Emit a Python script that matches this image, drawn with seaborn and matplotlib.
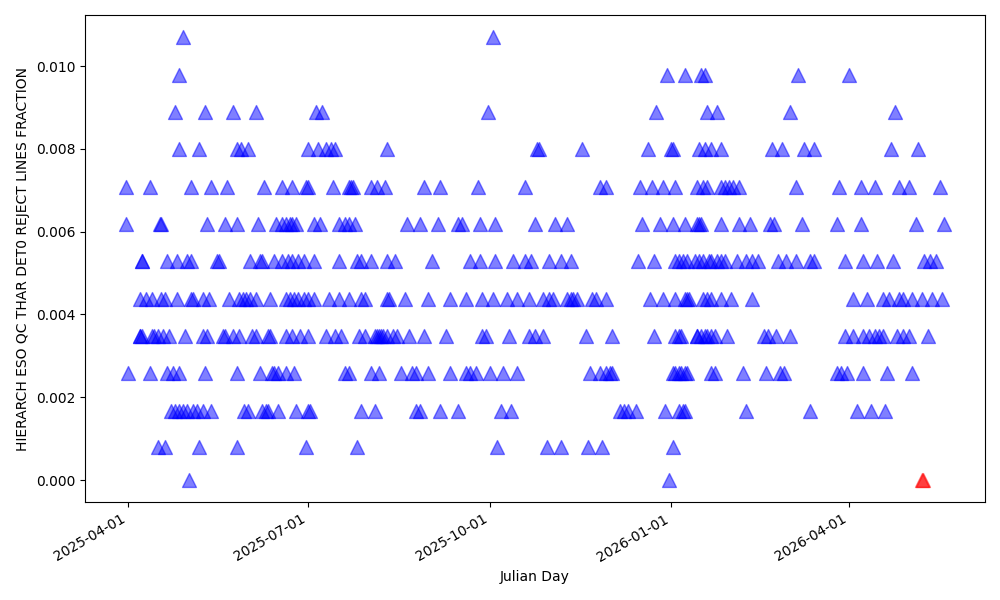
import matplotlib
matplotlib.use("Agg")
import matplotlib.pyplot as plt
import matplotlib.dates as mdates
import numpy as np
import pandas as pd
import seaborn as sns

START = "2025-04-01"

# value levels (fraction) observed in the chart
level_values = [0.0, 0.00080, 0.00168, 0.00259, 0.00348, 0.00437, 0.00528,
                0.00618, 0.00707, 0.00799, 0.00888, 0.00978, 0.01070]

# days since 2025-04-01 for the points at each level
days_L0 = [31, 274]
days_L1 = [15, 19, 36, 55, 90, 116, 187, 212, 219, 233, 240, 276]
days_L2 = [22, 24, 26, 28, 30, 33, 35, 38, 42, 59, 61, 68, 70, 71, 76, 85, 91, 92,
           118, 125, 146, 148, 158, 167, 189, 194, 249, 251, 253, 257, 272, 279,
           281, 282, 313, 345, 369, 376, 383]
days_L3 = [0, 11, 20, 23, 26, 39, 55, 67, 73, 74, 76, 80, 84, 110, 112, 123, 127,
           138, 144, 146, 152, 163, 171, 173, 176, 183, 190, 197, 234, 239, 242,
           244, 245, 276, 277, 279, 280, 282, 283, 295, 297, 311, 323, 330, 332,
           359, 361, 364, 372, 384, 397]
days_L4 = [6, 6, 7, 12, 13, 15, 18, 21, 29, 38, 40, 48, 49, 53, 56, 63, 65, 71, 72,
           80, 83, 87, 91, 100, 105, 108, 117, 120, 125, 126, 127, 128, 129, 131,
           134, 136, 142, 150, 161, 179, 181, 193, 203, 206, 210, 232, 245, 266,
           277, 279, 280, 288, 288, 290, 292, 293, 295, 297, 303, 322, 324, 328,
           335, 363, 367, 372, 375, 378, 380, 382, 389, 392, 395, 405]
days_L5 = [6, 9, 12, 17, 19, 25, 32, 33, 38, 41, 51, 56, 58, 60, 62, 65, 72, 80, 82,
           84, 86, 89, 91, 94, 102, 107, 112, 118, 120, 131, 132, 140, 152, 163,
           171, 179, 185, 192, 197, 203, 210, 213, 215, 222, 224, 225, 227, 235,
           237, 242, 264, 271, 277, 282, 283, 284, 291, 293, 295, 300, 305, 316,
           367, 374, 382, 385, 390, 392, 397, 402, 407, 412]
days_L6 = [7, 7, 20, 25, 30, 32, 45, 46, 62, 67, 68, 74, 78, 81, 83, 86, 89, 94,
           107, 116, 118, 123, 131, 135, 154, 173, 178, 186, 195, 201, 204, 213,
           219, 224, 258, 266, 277, 279, 281, 283, 287, 289, 291, 294, 295, 298,
           300, 302, 308, 313, 316, 319, 329, 333, 338, 345, 347, 363, 372, 379,
           387, 403, 406, 409]
days_L7 = [-1, 16, 17, 40, 49, 55, 66, 75, 78, 80, 82, 83, 85, 94, 97, 107, 110,
           112, 115, 141, 148, 157, 167, 169, 178, 186, 206, 216, 222, 260, 269,
           276, 282, 288, 289, 290, 300, 309, 315, 325, 327, 341, 359, 371, 399, 413]
days_L8 = [-1, 11, 32, 42, 50, 69, 78, 83, 90, 91, 104, 112, 113, 114, 123, 126,
           130, 150, 158, 177, 201, 239, 242, 259, 265, 271, 277, 288, 291, 293,
           300, 302, 304, 306, 309, 338, 360, 371, 378, 390, 395, 411]
days_L9 = [26, 36, 55, 57, 61, 91, 96, 100, 103, 105, 131, 207, 208, 230, 263, 275,
           276, 289, 292, 295, 300, 326, 331, 342, 347, 386, 400]
days_L10 = [24, 39, 53, 65, 95, 98, 182, 267, 293, 298, 335, 388]
days_L11 = [26, 273, 282, 290, 292, 339, 365]
days_L12 = [28, 185]

# highlighted (red) points
red_days = [401.8, 402.2]
red_values = [0.0, 0.0]

all_levels = [days_L0, days_L1, days_L2, days_L3, days_L4, days_L5, days_L6,
              days_L7, days_L8, days_L9, days_L10, days_L11, days_L12]

start = pd.Timestamp(START)
rows_d, rows_v = [], []
for val, dlist in zip(level_values, all_levels):
    rows_d.extend(dlist)
    rows_v.extend([val] * len(dlist))
df = pd.DataFrame({
    "date": start + pd.to_timedelta(np.array(rows_d, dtype=float), unit="D"),
    "value": rows_v,
})
df_red = pd.DataFrame({
    "date": start + pd.to_timedelta(np.array(red_days, dtype=float), unit="D"),
    "value": red_values,
})

fig, ax = plt.subplots(figsize=(10, 6), dpi=100)
sns.scatterplot(data=df, x="date", y="value", ax=ax, marker="^", s=100,
                color="blue", edgecolor="blue", linewidth=1.0, alpha=0.5, legend=False)
sns.scatterplot(data=df_red, x="date", y="value", ax=ax, marker="^", s=100,
                color="red", edgecolor="red", linewidth=1.0, alpha=0.5, legend=False)

ax.xaxis.set_major_locator(mdates.MonthLocator(bymonth=[1, 4, 7, 10]))
ax.xaxis.set_major_formatter(mdates.DateFormatter("%Y-%m-%d"))
ax.set_xlabel("Julian Day")
ax.set_ylabel("HIERARCH ESO QC THAR DET0 REJECT LINES FRACTION")
ax.yaxis.set_major_formatter(matplotlib.ticker.FormatStrFormatter("%.3f"))
for lbl in ax.get_xticklabels():
    lbl.set_rotation(30)
    lbl.set_ha("right")

fig.subplots_adjust(left=0.085, right=0.985, top=0.975, bottom=0.163)
fig.savefig("out.png", dpi=100)
